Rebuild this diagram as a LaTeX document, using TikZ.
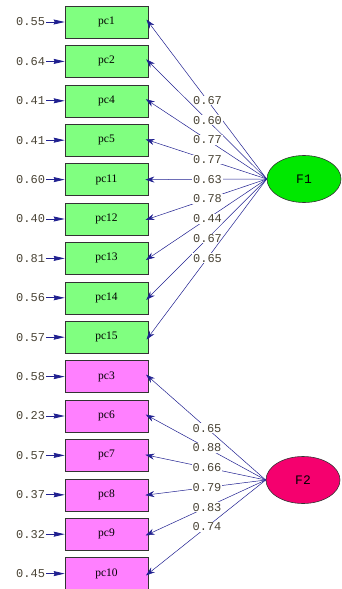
\documentclass[tikz,border=0pt]{standalone}
\usepackage{fontspec}
\setmainfont{Liberation Serif}
\newfontfamily\numfont{Liberation Mono}
\usetikzlibrary{arrows.meta,shapes.geometric}
\definecolor{obsgreen}{HTML}{80FF80}
\definecolor{obspink}{HTML}{FF80FF}
\definecolor{latgreen}{HTML}{00E800}
\definecolor{latpink}{HTML}{F5006E}
\definecolor{pathblue}{HTML}{202090}
\definecolor{numgray}{HTML}{4A4436}
\begin{document}
\begin{tikzpicture}[x=1pt,y=-1pt,
  obsbox/.style={draw=black!80,line width=0.6pt,minimum width=83pt,minimum height=32pt,inner sep=0pt,
    font=\fontsize{11.5}{11.5}\selectfont},
  latent/.style={ellipse,draw=black!80,line width=0.6pt,minimum width=74pt,minimum height=47pt,inner sep=0pt,
    font=\numfont\fontsize{13}{13}\selectfont},
  numlab/.style={text=numgray,font=\numfont\fontsize{12}{12}\selectfont,inner sep=0.8pt},
  load/.style={draw=pathblue,line width=0.5pt,-{Stealth[length=9pt,width=6pt]},shorten >=-3pt},
  err/.style={draw=pathblue,line width=0.8pt,-{Stealth[length=11pt,width=5pt,inset=1pt]}},
  loadlab/.style={numlab,fill=white}]
\useasboundingbox (0,0) rectangle (342,589);

% observed indicators with their error variances
\foreach \n/\e/\c [count=\i from 0] in {pc1/0.55/obsgreen,pc2/0.64/obsgreen,pc4/0.41/obsgreen,
    pc5/0.41/obsgreen,pc11/0.60/obsgreen,pc12/0.40/obsgreen,pc13/0.81/obsgreen,pc14/0.56/obsgreen,
    pc15/0.57/obsgreen,pc3/0.58/obspink,pc6/0.23/obspink,pc7/0.57/obspink,pc8/0.37/obspink,
    pc9/0.32/obspink,pc10/0.45/obspink}{
  \node[obsbox,fill=\c] (\n) at (106.5,{22+39.4*\i}) {\n};
  \node[numlab,anchor=east] (e\n) at (46,{22+39.4*\i}) {\e};
  \draw[err] (e\n.east) -- (\n.west);
}

% latent factors
\node[latent,fill=latgreen] (F1) at (304,179) {F1};
\node[latent,fill=latpink] (F2) at (303,480) {F2};

% factor loadings
\foreach \n/\l in {pc1/0.67,pc2/0.60,pc4/0.77,pc5/0.77,pc11/0.63,pc12/0.78,pc13/0.44,pc14/0.67,pc15/0.65}
  \draw[load] (F1.west) -- node[loadlab,pos=0.5]{\l} (\n.east);
\foreach \n/\l in {pc3/0.65,pc6/0.88,pc7/0.66,pc8/0.79,pc9/0.83,pc10/0.74}
  \draw[load] (F2.west) -- node[loadlab,pos=0.5]{\l} (\n.east);
\end{tikzpicture}
\end{document}
